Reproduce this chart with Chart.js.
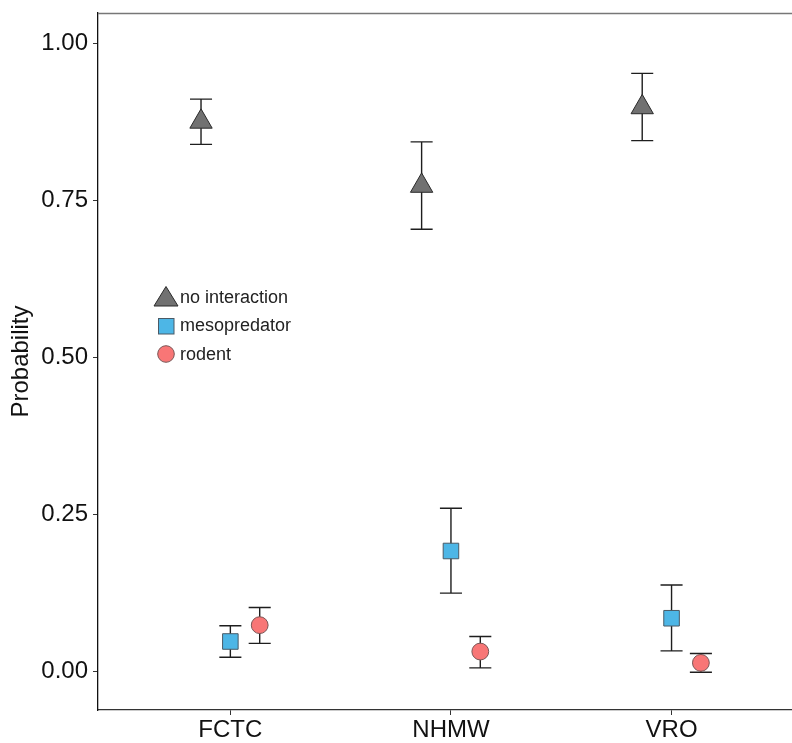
<!DOCTYPE html>
<html>
<head>
<meta charset="utf-8">
<script src="https://cdn.jsdelivr.net/npm/chart.js@4.4.1/dist/chart.umd.min.js"></script>
<style>
  html, body { margin: 0; padding: 0; background: #fff; }
  #wrap { position: relative; width: 792px; height: 743px; }
  #legend { position: absolute; left: 151px; top: 283px; font: 18px "Liberation Sans", Arial, sans-serif; color: #222; }
  #legend .row { display: flex; align-items: center; height: 28.5px; }
  #legend svg { width: 29px; height: 26px; flex: none; }
</style>
</head>
<body>
<div id="wrap">
  <canvas id="c" width="792" height="743"></canvas>
  <div id="legend"></div>
</div>
<script>
// Probability of each interaction type by site, point estimate +/- error bar
const sites = ["FCTC", "NHMW", "VRO"];
const groups = ["no interaction", "mesopredator", "rodent"];
const yTicks = [0, 0.25, 0.5, 0.75, 1.0];

const noInt     = [0.875, 0.773, 0.898];
const noIntLo   = [0.839, 0.704, 0.845];
const noIntHi   = [0.911, 0.843, 0.952];
const meso      = [0.048, 0.192, 0.085];
const mesoLo    = [0.023, 0.125, 0.033];
const mesoHi    = [0.073, 0.260, 0.138];
const rodent    = [0.074, 0.032, 0.014];
const rodentLo  = [0.045, 0.006, -0.001];
const rodentHi  = [0.102, 0.056, 0.029];

const DODGE = 0.133, CAP = 0.05;
const FONT = '"Liberation Sans", Arial, sans-serif';

const mk = (vals, lo, hi, k) => vals.map((v, i) => ({x: i + (k - 1) * DODGE, y: v, lo: lo[i], hi: hi[i]}));

const styles = [
  {pointStyle: "triangle", pointRadius: 12.9, backgroundColor: "#717171", borderColor: "#2a2a2a"},
  {pointStyle: "rect",     pointRadius: 11,   backgroundColor: "#4db6e6", borderColor: "#4a5a66"},
  {pointStyle: "circle",   pointRadius: 8.4,  backgroundColor: "#f87676", borderColor: "#7a5555"},
];
const series = [mk(noInt, noIntLo, noIntHi, 0), mk(meso, mesoLo, mesoHi, 1), mk(rodent, rodentLo, rodentHi, 2)];

const errorBars = {
  id: "errorBars",
  beforeDatasetsDraw(chart) {
    const {ctx, scales: {x, y}} = chart;
    ctx.save();
    ctx.strokeStyle = "#1e1e1e"; ctx.lineWidth = 1.4;
    chart.data.datasets.forEach(ds => ds.data.forEach(p => {
      const px = x.getPixelForValue(p.x), l = x.getPixelForValue(p.x - CAP), r = x.getPixelForValue(p.x + CAP);
      const yl = y.getPixelForValue(p.lo), yh = y.getPixelForValue(p.hi);
      ctx.beginPath();
      ctx.moveTo(px, yl); ctx.lineTo(px, yh);
      ctx.moveTo(l, yl); ctx.lineTo(r, yl);
      ctx.moveTo(l, yh); ctx.lineTo(r, yh);
      ctx.stroke();
    }));
    ctx.restore();
  }
};

const topLine = {
  id: "topLine",
  afterDraw(chart) {
    const {ctx, chartArea: a} = chart;
    ctx.save(); ctx.strokeStyle = "#777"; ctx.lineWidth = 1.3;
    ctx.beginPath(); ctx.moveTo(a.left, a.top + 0.5); ctx.lineTo(a.right, a.top + 0.5); ctx.stroke();
    ctx.restore();
  }
};

const noPad = s => { s.paddingTop = s.paddingBottom = s.paddingLeft = s.paddingRight = 0; };

new Chart(document.getElementById("c"), {
  type: "scatter",
  data: {datasets: series.map((d, k) => ({label: groups[k], data: d, borderWidth: 1, ...styles[k]}))},
  options: {
    responsive: false, animation: false, events: [],
    layout: {autoPadding: false, padding: {top: 13, right: 0, left: 0, bottom: 0}},
    plugins: {legend: {display: false}, tooltip: {enabled: false}},
    scales: {
      x: {
        type: "linear", min: -0.6, max: 2.546,
        afterBuildTicks: s => { s.ticks = sites.map((_, i) => ({value: i})); },
        afterFit: s => { s.height = 33; noPad(s); },
        ticks: {callback: v => sites[v], color: "#111", padding: 1, font: {family: FONT, size: 24}},
        grid: {drawOnChartArea: false, tickLength: 5, color: "#333"},
        border: {color: "#333", width: 1.3}
      },
      y: {
        min: -0.061, max: 1.048,
        afterBuildTicks: s => { s.ticks = yTicks.map(v => ({value: v})); },
        afterFit: s => { s.width = 98; noPad(s); },
        ticks: {callback: v => v.toFixed(2), color: "#111", padding: 5, font: {family: FONT, size: 24}},
        grid: {drawOnChartArea: false, tickLength: 5, color: "#333"},
        border: {color: "#111", width: 1.3},
        title: {display: true, text: "Probability", color: "#111", padding: {top: 7, bottom: 0}, font: {family: FONT, size: 24}}
      }
    }
  },
  plugins: [errorBars, topLine]
});

// legend drawn inside the panel, top-left
const shapes = [
  '<polygon points="15,2.5 27,22 3,22" fill="#717171" stroke="#2a2a2a" stroke-width="1"/>',
  '<rect x="7.5" y="5.5" width="15.5" height="15.5" fill="#4db6e6" stroke="#4a5a66" stroke-width="1"/>',
  '<circle cx="15" cy="13" r="8.3" fill="#f87676" stroke="#7a5555" stroke-width="1"/>'
];
document.getElementById("legend").innerHTML = groups.map((g, k) =>
  `<div class="row"><svg viewBox="0 0 29 26">${shapes[k]}</svg><span>${g}</span></div>`).join("");
</script>
</body>
</html>
